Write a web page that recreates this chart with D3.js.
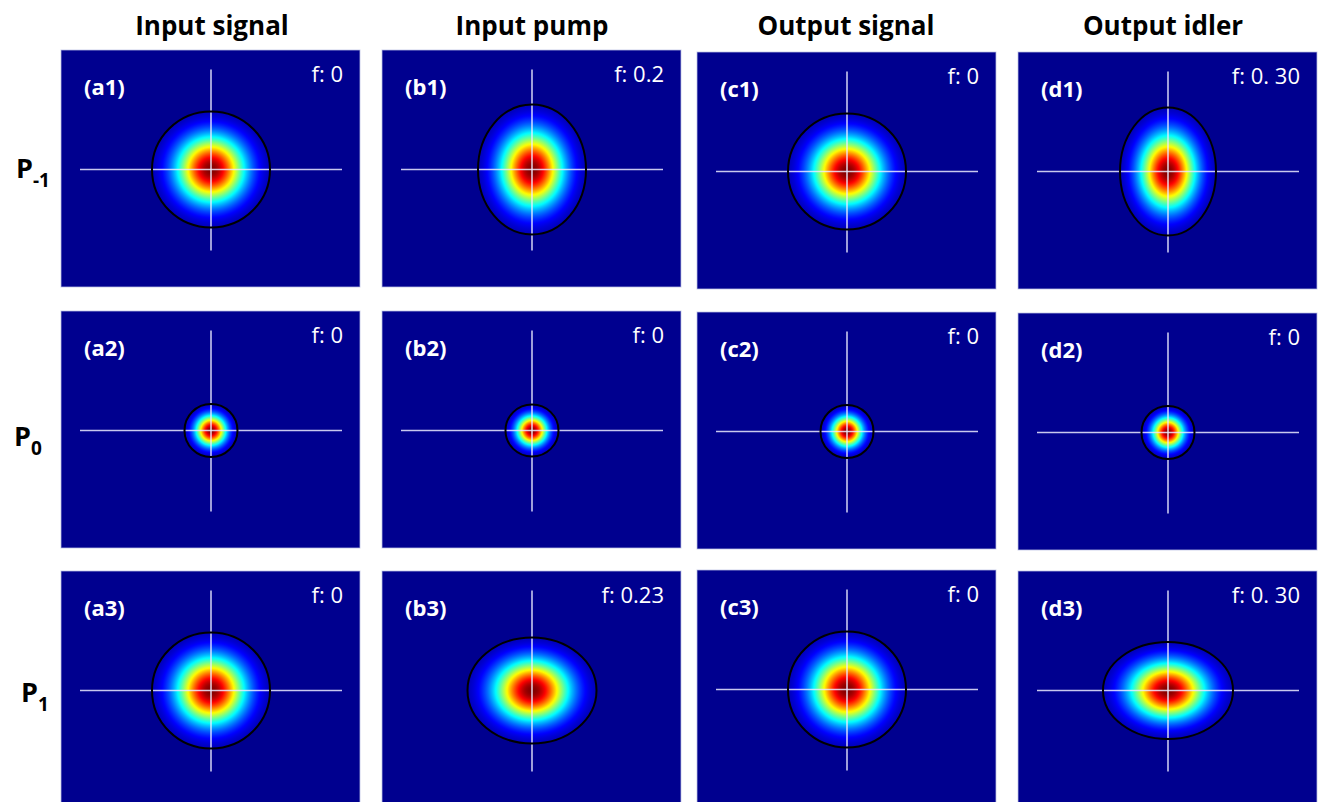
<!DOCTYPE html>
<html>
<head>
<meta charset="utf-8">
<script src="https://cdn.jsdelivr.net/npm/d3@7"></script>
<style>
  html, body { margin: 0; padding: 0; background: #ffffff; }
  svg { display: block; }
</style>
</head>
<body>
<svg id="chart" width="1318" height="802"></svg>
<script>
// ---------------- data ----------------
const columnTitles = ["Input signal", "Input pump", "Output signal", "Output idler"];
const columnLetters = ["a", "b", "c", "d"];
const rowSubscripts = ["-1", "0", "1"];
const fLabels = [
  ["0", "0.2", "0", "0. 30"],
  ["0", "0", "0", "0"],
  ["0", "0.23", "0", "0. 30"]
];
// beam semi-axes (panel units)
const beamRx = [
  [59, 54, 59, 48],
  [26.5, 26.5, 26.5, 26.5],
  [59, 64.5, 59, 65]
];
const beamRy = [
  [58, 65, 58, 64],
  [26.5, 26, 26.5, 26.5],
  [58, 53, 58, 48.5]
];
// whether the horizontal cross line is drawn
const showHLine = [
  [true, true, true, true],
  [true, true, true, true],
  [true, false, true, true]
];
// cross-hair extents (panel units, y up)
const crossX = [-131, 131];
const crossY = [-81, 100];
// Gaussian width relative to the drawn ellipse
const gaussRel = 0.56;

// ---------------- layout ----------------
const W = 1318, H = 802;
const panelW = 299, panelH = 237;
const colLeft = [61, 382, 697, 1018];
const panelTop = [
  [50, 50, 52, 52],
  [311, 311, 312, 313],
  [571, 571, 570, 571]
];
const titleCenters = [212, 532, 846, 1163];
const rowLabelPos = [[16, 178], [14, 446], [21, 702]];

const svg = d3.select("#chart");
const defs = svg.append("defs");

// jet colormap (MATLAB style)
const jet = d3.scaleLinear()
  .domain([0, 0.111, 0.365, 0.619, 0.873, 1])
  .range(["#00008f", "#0000ff", "#00ffff", "#ffff00", "#ff0000", "#800000"])
  .interpolate(d3.interpolateRgb)
  .clamp(true);

// gradient for the Gaussian beam profile (shared, object bounding box)
const grad = defs.append("radialGradient")
  .attr("id", "gauss")
  .attr("cx", "50%").attr("cy", "50%").attr("r", "50%");
const nStops = 60;
d3.range(nStops + 1).forEach(i => {
  const t = i / nStops;
  const v = Math.exp(-Math.pow(t / gaussRel, 2));
  grad.append("stop")
    .attr("offset", (t * 100).toFixed(2) + "%")
    .attr("stop-color", jet(v));
});

const fontMain = "'Open Sans', 'DejaVu Sans', sans-serif";

// column titles
svg.selectAll("text.title")
  .data(columnTitles)
  .join("text")
  .attr("class", "title")
  .attr("x", (d, i) => titleCenters[i])
  .attr("y", 35)
  .attr("text-anchor", "middle")
  .attr("font-family", fontMain)
  .attr("font-weight", "bold")
  .attr("font-size", 26)
  .attr("fill", "#000")
  .text(d => d);

// row labels
rowSubscripts.forEach((sub, r) => {
  const t = svg.append("text")
    .attr("x", rowLabelPos[r][0])
    .attr("y", rowLabelPos[r][1])
    .attr("font-family", fontMain)
    .attr("font-weight", "bold")
    .attr("font-size", 27)
    .attr("fill", "#000");
  t.append("tspan").text("P");
  t.append("tspan")
    .attr("font-size", 19)
    .attr("dy", 9)
    .text(sub);
});

// panels
rowSubscripts.forEach((sub, r) => {
  columnLetters.forEach((letter, c) => {
    const x0 = colLeft[c], y0 = panelTop[r][c];
    const g = svg.append("g").attr("transform", `translate(${x0},${y0})`);
    const xs = d3.scaleLinear().domain([-150, 149]).range([0, panelW]);
    const ys = d3.scaleLinear().domain([119.5, -117.5]).range([0, panelH]);

    g.append("rect")
      .attr("x", 0).attr("y", 0)
      .attr("width", panelW).attr("height", panelH)
      .attr("fill", "#00008f")
      .attr("stroke", "rgba(190,195,230,0.75)")
      .attr("stroke-width", 1);

    const rx = beamRx[r][c], ry = beamRy[r][c];
    const kx = xs(1) - xs(0), ky = ys(0) - ys(1);
    g.append("ellipse")
      .attr("cx", xs(0)).attr("cy", ys(0))
      .attr("rx", rx * kx).attr("ry", ry * ky)
      .attr("fill", "url(#gauss)");

    // cross-hair
    if (showHLine[r][c]) {
      g.append("line")
        .attr("x1", xs(crossX[0])).attr("x2", xs(crossX[1]))
        .attr("y1", ys(0)).attr("y2", ys(0))
        .attr("stroke", "rgba(235,235,255,0.85)")
        .attr("stroke-width", 1.6);
    }
    g.append("line")
      .attr("x1", xs(0)).attr("x2", xs(0))
      .attr("y1", ys(crossY[1])).attr("y2", ys(crossY[0]))
      .attr("stroke", "rgba(235,235,255,0.85)")
      .attr("stroke-width", 1.6);

    // outline
    g.append("ellipse")
      .attr("cx", xs(0)).attr("cy", ys(0))
      .attr("rx", rx * kx).attr("ry", ry * ky)
      .attr("fill", "none")
      .attr("stroke", "#000")
      .attr("stroke-width", 2);

    // labels
    g.append("text")
      .attr("x", 23).attr("y", 45)
      .attr("font-family", fontMain)
      .attr("font-weight", "bold")
      .attr("font-size", 22)
      .attr("fill", "#fff")
      .text(`(${letter}${r + 1})`);
    g.append("text")
      .attr("x", panelW - 17).attr("y", 32)
      .attr("text-anchor", "end")
      .attr("font-family", fontMain)
      .attr("font-size", 22)
      .attr("fill", "#fff")
      .text(`f: ${fLabels[r][c]}`);
  });
});
</script>
</body>
</html>
